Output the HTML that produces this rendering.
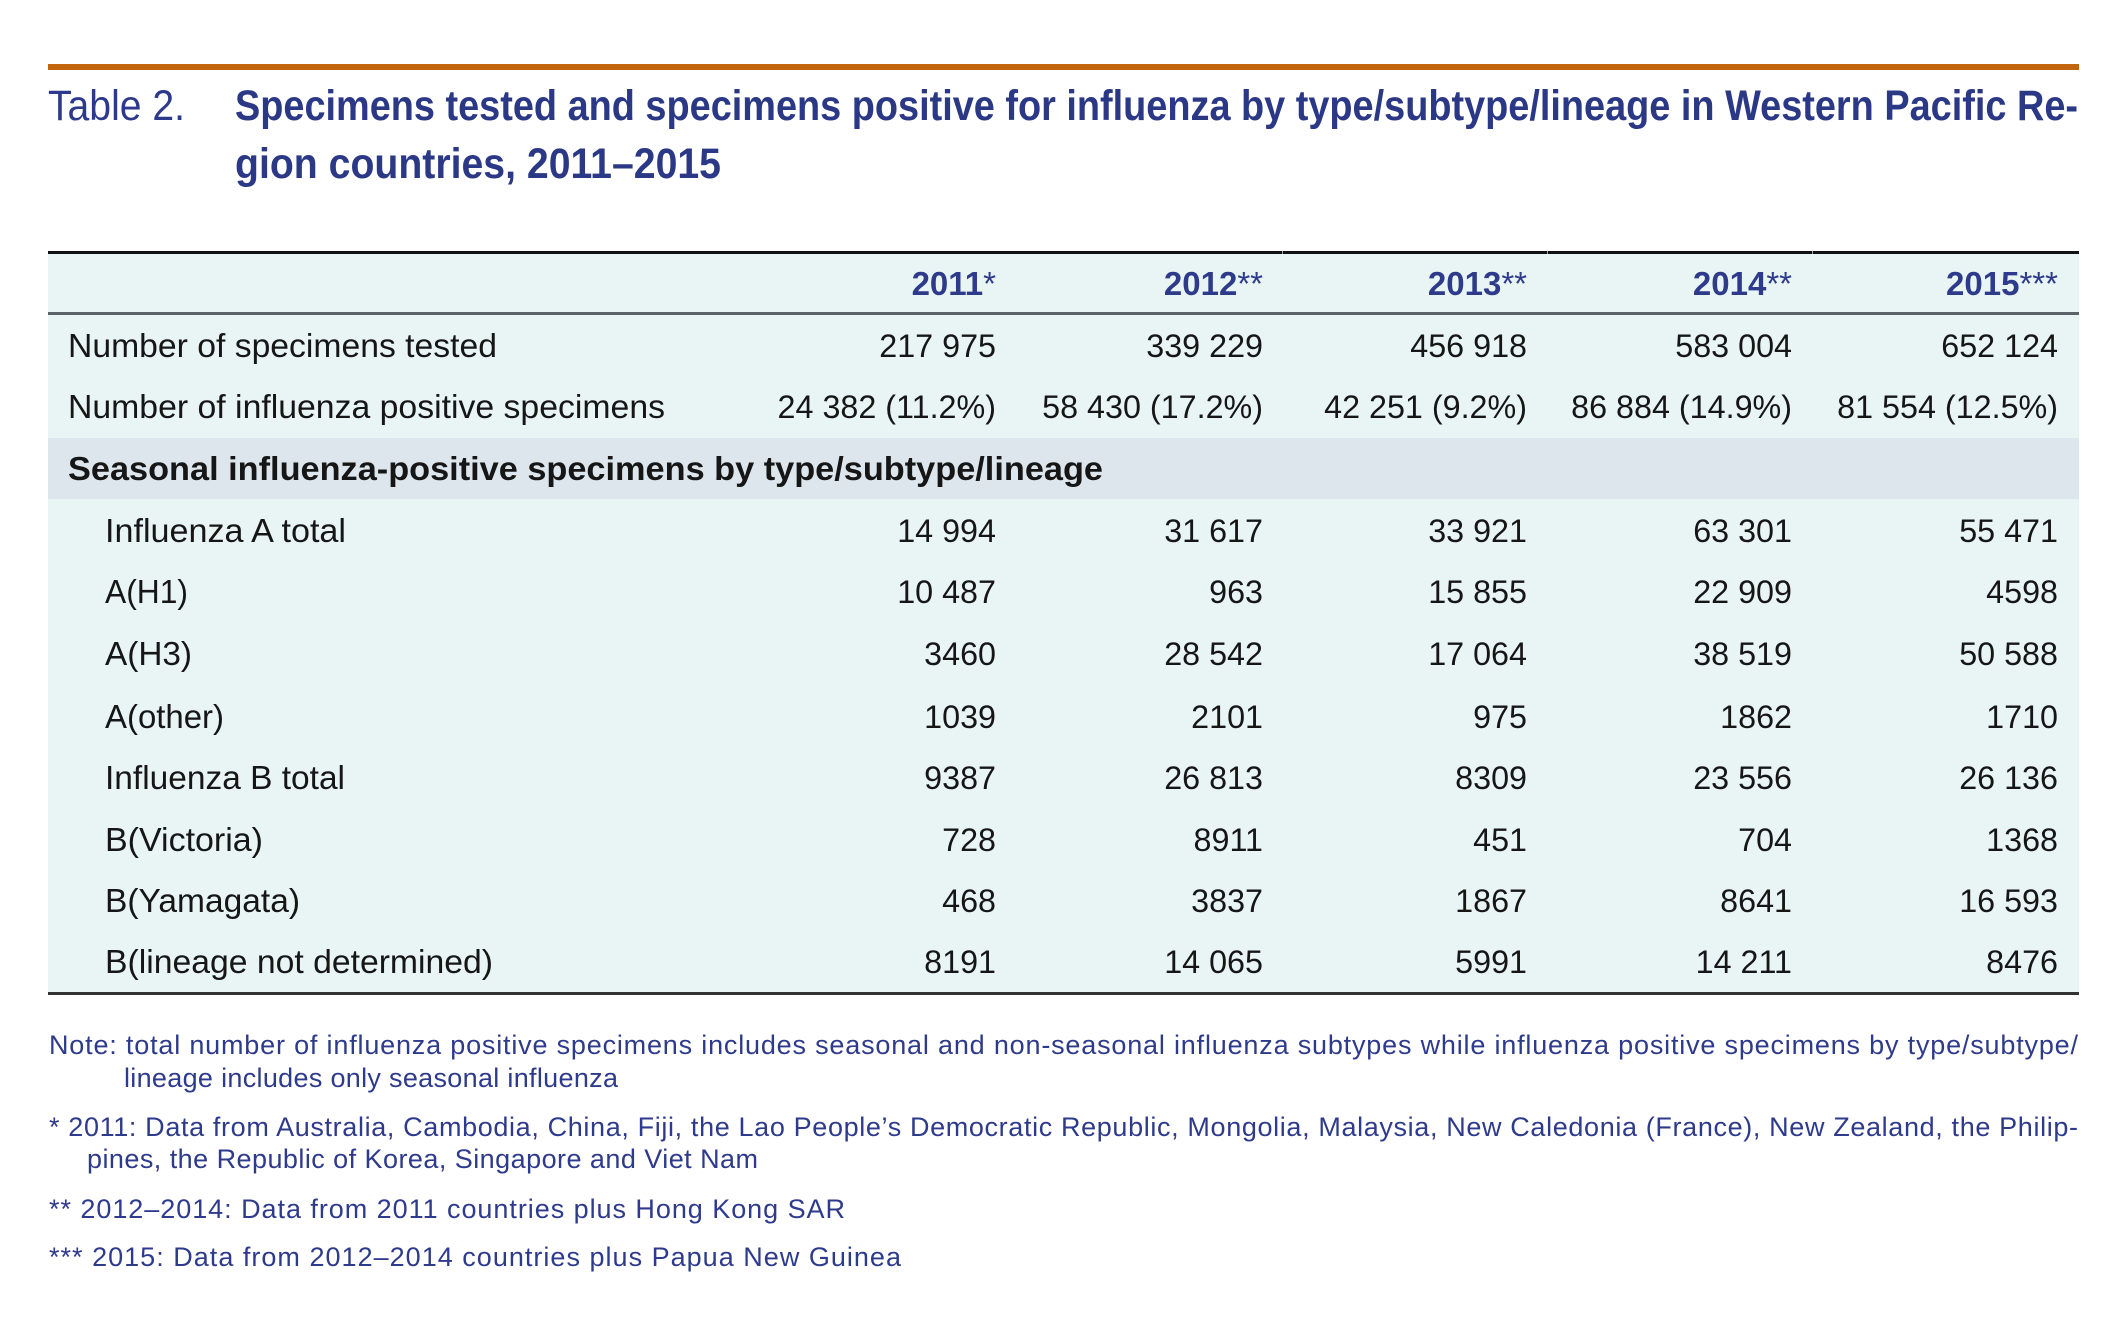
<!DOCTYPE html>
<html>
<head>
<meta charset="utf-8">
<style>
  html, body { margin: 0; padding: 0; background: #ffffff; }
  svg { display: block; }
  .lbl { font-family: "Liberation Sans", Arial, sans-serif; font-size: 33.6px; fill: #161616; }
  .num { font-family: "Liberation Sans", Arial, sans-serif; font-size: 32.3px; fill: #161616; }
  .hdr { font-family: "Liberation Sans", Arial, sans-serif; font-size: 33px; font-weight: bold; fill: #2e3a8a; }
  .fn  { font-family: "Liberation Sans", Arial, sans-serif; font-size: 27px; fill: #2e3a8c; }
  .ttl { font-family: "Liberation Sans", Arial, sans-serif; font-size: 43px; font-weight: bold; fill: #2b3886; }
</style>
</head>
<body>
<svg width="2122" height="1326" viewBox="0 0 2122 1326" xmlns="http://www.w3.org/2000/svg">
  <rect x="0" y="0" width="2122" height="1326" fill="#ffffff"/>

  <!-- Orange rule -->
  <rect x="48" y="64" width="2031" height="6" fill="#c1650f"/>

  <!-- Title -->
  <text x="48" y="120" font-family="Liberation Sans, Arial, sans-serif" font-size="43" fill="#2d3a8c" textLength="137" lengthAdjust="spacingAndGlyphs">Table 2.</text>
  <text class="ttl" x="235" y="120" textLength="1843" lengthAdjust="spacingAndGlyphs">Specimens tested and specimens positive for influenza by type/subtype/lineage in Western Pacific Re-</text>
  <text class="ttl" x="235" y="178" textLength="486" lengthAdjust="spacingAndGlyphs">gion countries, 2011–2015</text>

  <!-- Table background -->
  <rect x="48" y="252" width="2031" height="742" fill="#e9f5f5"/>
  <!-- Seasonal band -->
  <rect x="48" y="438" width="2031" height="61" fill="#dce6ec"/>

  <!-- Top rule -->
  <rect x="48" y="251" width="2031" height="3" fill="#111111"/>
  <rect x="1282" y="251" width="1" height="3" fill="#9a9a9a"/>
  <rect x="1547" y="251" width="1" height="3" fill="#9a9a9a"/>
  <rect x="1812" y="251" width="1" height="3" fill="#9a9a9a"/>
  <!-- Header bottom rule -->
  <rect x="48" y="312" width="2031" height="3" fill="#5d6469"/>
  <!-- Bottom rule -->
  <rect x="48" y="992" width="2031" height="3" fill="#333333"/>

  <!-- Header -->
  <text class="hdr" x="996" y="295" text-anchor="end">2011<tspan font-weight="normal">*</tspan></text>
  <text class="hdr" x="1263" y="295" text-anchor="end">2012<tspan font-weight="normal">**</tspan></text>
  <text class="hdr" x="1527" y="295" text-anchor="end">2013<tspan font-weight="normal">**</tspan></text>
  <text class="hdr" x="1792" y="295" text-anchor="end">2014<tspan font-weight="normal">**</tspan></text>
  <text class="hdr" x="2058" y="295" text-anchor="end">2015<tspan font-weight="normal">***</tspan></text>

  <!-- Row: Number of specimens tested -->
  <text class="lbl" x="68" y="357" textLength="429" lengthAdjust="spacingAndGlyphs">Number of specimens tested</text>
  <text class="num" x="996" y="357" text-anchor="end">217 975</text>
  <text class="num" x="1263" y="357" text-anchor="end">339 229</text>
  <text class="num" x="1527" y="357" text-anchor="end">456 918</text>
  <text class="num" x="1792" y="357" text-anchor="end">583 004</text>
  <text class="num" x="2058" y="357" text-anchor="end">652 124</text>

  <!-- Row: Number of influenza positive specimens -->
  <text class="lbl" x="68" y="418" textLength="597" lengthAdjust="spacingAndGlyphs">Number of influenza positive specimens</text>
  <text class="num" x="996" y="418" text-anchor="end">24 382 (11.2%)</text>
  <text class="num" x="1263" y="418" text-anchor="end">58 430 (17.2%)</text>
  <text class="num" x="1527" y="418" text-anchor="end">42 251 (9.2%)</text>
  <text class="num" x="1792" y="418" text-anchor="end">86 884 (14.9%)</text>
  <text class="num" x="2058" y="418" text-anchor="end">81 554 (12.5%)</text>

  <!-- Seasonal band label -->
  <text class="lbl" x="68" y="480" font-weight="bold" textLength="1035" lengthAdjust="spacingAndGlyphs">Seasonal influenza-positive specimens by type/subtype/lineage</text>

  <!-- Influenza A total -->
  <text class="lbl" x="105" y="542" textLength="241" lengthAdjust="spacingAndGlyphs">Influenza A total</text>
  <text class="num" x="996" y="542" text-anchor="end">14 994</text>
  <text class="num" x="1263" y="542" text-anchor="end">31 617</text>
  <text class="num" x="1527" y="542" text-anchor="end">33 921</text>
  <text class="num" x="1792" y="542" text-anchor="end">63 301</text>
  <text class="num" x="2058" y="542" text-anchor="end">55 471</text>

  <!-- A(H1) -->
  <text class="lbl" x="105" y="603" textLength="83" lengthAdjust="spacingAndGlyphs">A(H1)</text>
  <text class="num" x="996" y="603" text-anchor="end">10 487</text>
  <text class="num" x="1263" y="603" text-anchor="end">963</text>
  <text class="num" x="1527" y="603" text-anchor="end">15 855</text>
  <text class="num" x="1792" y="603" text-anchor="end">22 909</text>
  <text class="num" x="2058" y="603" text-anchor="end">4598</text>

  <!-- A(H3) -->
  <text class="lbl" x="105" y="665" textLength="87" lengthAdjust="spacingAndGlyphs">A(H3)</text>
  <text class="num" x="996" y="665" text-anchor="end">3460</text>
  <text class="num" x="1263" y="665" text-anchor="end">28 542</text>
  <text class="num" x="1527" y="665" text-anchor="end">17 064</text>
  <text class="num" x="1792" y="665" text-anchor="end">38 519</text>
  <text class="num" x="2058" y="665" text-anchor="end">50 588</text>

  <!-- A(other) -->
  <text class="lbl" x="105" y="728" textLength="119" lengthAdjust="spacingAndGlyphs">A(other)</text>
  <text class="num" x="996" y="728" text-anchor="end">1039</text>
  <text class="num" x="1263" y="728" text-anchor="end">2101</text>
  <text class="num" x="1527" y="728" text-anchor="end">975</text>
  <text class="num" x="1792" y="728" text-anchor="end">1862</text>
  <text class="num" x="2058" y="728" text-anchor="end">1710</text>

  <!-- Influenza B total -->
  <text class="lbl" x="105" y="789" textLength="240" lengthAdjust="spacingAndGlyphs">Influenza B total</text>
  <text class="num" x="996" y="789" text-anchor="end">9387</text>
  <text class="num" x="1263" y="789" text-anchor="end">26 813</text>
  <text class="num" x="1527" y="789" text-anchor="end">8309</text>
  <text class="num" x="1792" y="789" text-anchor="end">23 556</text>
  <text class="num" x="2058" y="789" text-anchor="end">26 136</text>

  <!-- B(Victoria) -->
  <text class="lbl" x="105" y="851" textLength="158" lengthAdjust="spacingAndGlyphs">B(Victoria)</text>
  <text class="num" x="996" y="851" text-anchor="end">728</text>
  <text class="num" x="1263" y="851" text-anchor="end">8911</text>
  <text class="num" x="1527" y="851" text-anchor="end">451</text>
  <text class="num" x="1792" y="851" text-anchor="end">704</text>
  <text class="num" x="2058" y="851" text-anchor="end">1368</text>

  <!-- B(Yamagata) -->
  <text class="lbl" x="105" y="912" textLength="195" lengthAdjust="spacingAndGlyphs">B(Yamagata)</text>
  <text class="num" x="996" y="912" text-anchor="end">468</text>
  <text class="num" x="1263" y="912" text-anchor="end">3837</text>
  <text class="num" x="1527" y="912" text-anchor="end">1867</text>
  <text class="num" x="1792" y="912" text-anchor="end">8641</text>
  <text class="num" x="2058" y="912" text-anchor="end">16 593</text>

  <!-- B(lineage not determined) -->
  <text class="lbl" x="105" y="973" textLength="388" lengthAdjust="spacingAndGlyphs">B(lineage not determined)</text>
  <text class="num" x="996" y="973" text-anchor="end">8191</text>
  <text class="num" x="1263" y="973" text-anchor="end">14 065</text>
  <text class="num" x="1527" y="973" text-anchor="end">5991</text>
  <text class="num" x="1792" y="973" text-anchor="end">14 211</text>
  <text class="num" x="2058" y="973" text-anchor="end">8476</text>

  <!-- Footnotes -->
  <text class="fn" x="49" y="1054" textLength="2029" lengthAdjust="spacing">Note: total number of influenza positive specimens includes seasonal and non-seasonal influenza subtypes while influenza positive specimens by type/subtype/</text>
  <text class="fn" x="124" y="1087" textLength="494" lengthAdjust="spacing">lineage includes only seasonal influenza</text>
  <text class="fn" x="49" y="1136" textLength="2029" lengthAdjust="spacing">* 2011: Data from Australia, Cambodia, China, Fiji, the Lao People’s Democratic Republic, Mongolia, Malaysia, New Caledonia (France), New Zealand, the Philip-</text>
  <text class="fn" x="87" y="1168" textLength="671" lengthAdjust="spacing">pines, the Republic of Korea, Singapore and Viet Nam</text>
  <text class="fn" x="49" y="1218" textLength="796" lengthAdjust="spacing">** 2012–2014: Data from 2011 countries plus Hong Kong SAR</text>
  <text class="fn" x="49" y="1266" textLength="852" lengthAdjust="spacing">*** 2015: Data from 2012–2014 countries plus Papua New Guinea</text>
</svg>
</body>
</html>
